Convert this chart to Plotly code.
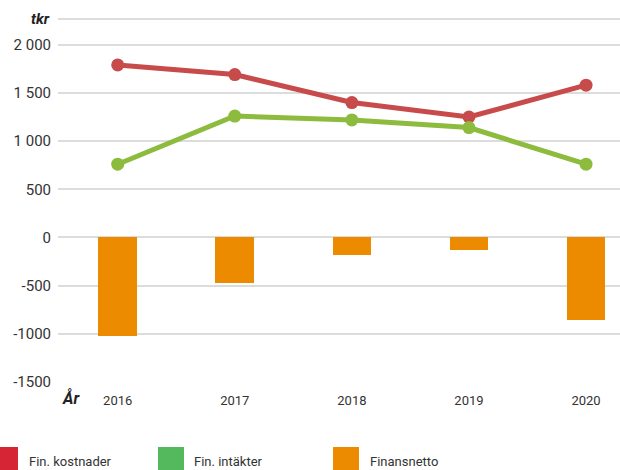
import plotly.graph_objects as go

years = ["2016", "2017", "2018", "2019", "2020"]
fin_kostnader = [1790, 1690, 1400, 1250, 1580]
fin_intakter = [760, 1260, 1220, 1140, 760]
finansnetto = [-1020, -470, -180, -130, -855]
series_names = ["Fin. kostnader", "Fin. intäkter", "Finansnetto"]
legend_colors = ["#d62635", "#53b95c", "#ec8b00"]
y_tickvals = [2000, 1500, 1000, 500, 0, -500, -1000, -1500]
y_ticktext = ["2 000", "1 500", "1 000", "500", "0", "-500", "-1000", "-1500"]

FONT = "Roboto, Arial"

fig = go.Figure()
fig.add_trace(go.Bar(x=years, y=finansnetto, name=series_names[2],
                     marker=dict(color="#ec8b00", line=dict(width=0)), width=0.33))
fig.add_trace(go.Scatter(x=years, y=fin_kostnader, name=series_names[0], mode="lines+markers",
                         line=dict(color="#c84b4b", width=5),
                         marker=dict(color="#c84b4b", size=13)))
fig.add_trace(go.Scatter(x=years, y=fin_intakter, name=series_names[1], mode="lines+markers",
                         line=dict(color="#8dbb3e", width=5),
                         marker=dict(color="#8dbb3e", size=13)))

W, H = 620, 470
ML, MR, MT, MB = 58, 0, 19, 88
pw = W - ML - MR
ph = H - MT - MB

def px(x):
    return (x - ML) / pw

def py(y):
    return (H - MB - y) / ph

shapes = [dict(type="line", xref="paper", yref="paper", x0=0, x1=1, y0=1, y1=1,
               line=dict(color="#dcdcdc", width=2), layer="below")]
annotations = [
    dict(text="<b><i>tkr</i></b>", xref="paper", yref="paper", x=px(52), y=1,
         xanchor="right", yanchor="middle", showarrow=False,
         font=dict(family=FONT, size=15, color="#222")),
    dict(text="<b><i>År</i></b>", xref="paper", yref="paper", x=px(60), y=py(398),
         xanchor="left", yanchor="middle", showarrow=False,
         font=dict(family=FONT, size=16, color="#222")),
]
sq_x = [-8, 158, 333]
txt_x = [27, 192, 368]
for name, col, sx, tx in zip(series_names, legend_colors, sq_x, txt_x):
    shapes.append(dict(type="rect", xref="paper", yref="paper",
                       x0=px(sx), x1=px(sx + 26), y0=py(447), y1=py(480),
                       fillcolor=col, line=dict(width=0)))
    annotations.append(dict(text=name, xref="paper", yref="paper", x=px(tx), y=py(461),
                            xanchor="left", yanchor="middle", showarrow=False,
                            font=dict(family=FONT, size=13, color="#333")))

fig.update_layout(
    width=W, height=H,
    margin=dict(l=ML, r=MR, t=MT, b=MB, pad=0),
    paper_bgcolor="white", plot_bgcolor="white",
    showlegend=False,
    bargap=0,
    font=dict(family=FONT, size=14, color="#333"),
    shapes=shapes, annotations=annotations,
    xaxis=dict(range=[-0.51, 4.29], showgrid=False, zeroline=False, showline=False,
               ticks="", ticklabelstandoff=9, tickfont=dict(size=13, color="#333")),
    yaxis=dict(range=[-1500, 2267], tickvals=y_tickvals, ticktext=y_ticktext,
               showgrid=True, gridcolor="#dcdcdc", gridwidth=2, zeroline=False,
               showline=False, ticks="", ticklabelstandoff=6,
               tickfont=dict(size=15, color="#333")),
)

fig.write_html("out.html", config={"displayModeBar": False},
               post_script="document.body.style.margin='0';")
